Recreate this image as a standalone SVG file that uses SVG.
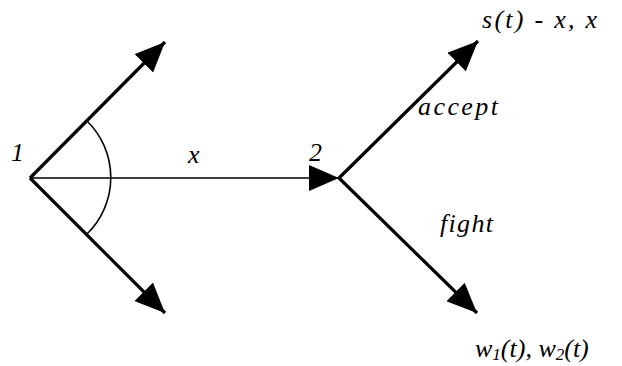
<svg xmlns="http://www.w3.org/2000/svg" width="622" height="366" viewBox="0 0 622 366">
<defs>
<style>
.t{font-family:"Liberation Serif","Times New Roman",serif;font-style:italic;font-size:26px;fill:#000}
</style>
<marker id="big" viewBox="0 0 30 26" refX="30" refY="13" markerWidth="30" markerHeight="26" markerUnits="userSpaceOnUse" orient="auto">
<path d="M0,0 L30,13 L0,26 Z" fill="#000"/>
</marker>
</defs>
<rect width="622" height="366" fill="#fff"/>
<g id="connectors" stroke="#000" fill="none">
<line stroke-width="3.2" x1="30" y1="178" x2="165" y2="42" marker-end="url(#big)"/>
<line stroke-width="3.2" x1="30" y1="178" x2="165" y2="313" marker-end="url(#big)"/>
<line stroke-width="1.6" x1="30" y1="178" x2="339" y2="178" marker-end="url(#big)"/>
<line stroke-width="3.2" x1="339" y1="178" x2="478" y2="41" marker-end="url(#big)"/>
<line stroke-width="3.2" x1="339" y1="178" x2="477" y2="313" marker-end="url(#big)"/>
<path stroke-width="1.6" d="M87,121 A79,79 0 0 1 87,234"/>
</g>
<g id="node1"><text class="t" x="11" y="161">1</text></g>
<g id="node2"><text class="t" x="309" y="161">2</text></g>
<g id="label-x"><text class="t" x="188" y="163">x</text></g>
<g id="label-accept"><text class="t" x="418" y="115" textLength="80" lengthAdjust="spacing">accept</text></g>
<g id="label-fight"><text class="t" x="440" y="232" textLength="53" lengthAdjust="spacing">fight</text></g>
<g id="label-s"><text class="t" x="482" y="28" textLength="115" lengthAdjust="spacing">s(t) - x, x</text></g>
<g id="label-w"><text class="t" x="475" y="357">w<tspan font-size="17" dy="3">1</tspan><tspan dy="-3">(t), w</tspan><tspan font-size="17" dy="3">2</tspan><tspan dy="-3">(t)</tspan></text></g>
</svg>
